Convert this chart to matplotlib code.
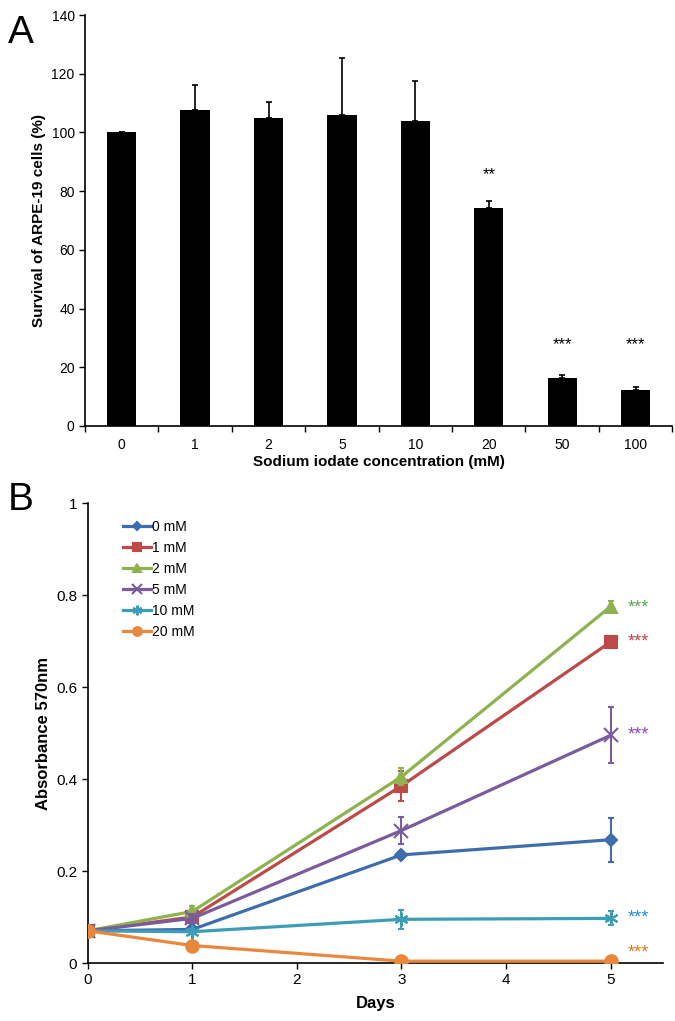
import numpy as np
import matplotlib
matplotlib.use('Agg')
import matplotlib.pyplot as plt

plt.rcParams['font.family'] = ['Liberation Sans', 'DejaVu Sans']

# panel A data
conc_labels = ['0', '1', '2', '5', '10', '20', '50', '100']
survival = [100, 107.5, 105, 106, 104, 74.2, 16.5, 12.2]
survival_err = [0.3, 8.5, 5.5, 19.5, 13.5, 2.5, 0.8, 1.0]
sig_a = ['', '', '', '', '', '**', '***', '***']
sig_a_y = [0, 0, 0, 0, 0, 85.5, 27.6, 27.6]

# panel B data
days = [0, 1, 3, 5]
series_names = ['0 mM', '1 mM', '2 mM', '5 mM', '10 mM', '20 mM']
abs_0 = [0.07, 0.073, 0.235, 0.268]
abs_1 = [0.07, 0.100, 0.385, 0.698]
abs_2 = [0.07, 0.112, 0.405, 0.775]
abs_5 = [0.07, 0.097, 0.288, 0.495]
abs_10 = [0.07, 0.068, 0.095, 0.097]
abs_20 = [0.07, 0.038, 0.004, 0.004]
err_0 = [0.003, 0.005, 0.008, 0.048]
err_1 = [0.003, 0.008, 0.033, 0.006]
err_2 = [0.003, 0.012, 0.018, 0.012]
err_5 = [0.003, 0.010, 0.030, 0.061]
err_10 = [0.003, 0.005, 0.020, 0.015]
err_20 = [0.003, 0.004, 0.003, 0.003]
sig_b = ['', '***', '***', '***', '***', '***']
sig_b_y = [0, 0.698, 0.771, 0.495, 0.098, 0.021]

colors = ['#3E6DAE', '#BD4A47', '#8DB24E', '#7A5C9E', '#3D9DB7', '#E9883C']
star_colors = ['', '#C8454A', '#5EA85A', '#8E44D0', '#1E90D6', '#E07A22']
markers = ['D', 's', '^', 'x', (6, 2, 0), 'o']
msizes = [6, 8, 8, 10, 10, 9]

fig = plt.figure(figsize=(6.75, 10.21), dpi=100)

# ---- panel A ----
axA = fig.add_axes([0.126, 0.5828, 0.87, 0.4025])
x = np.arange(len(conc_labels))
axA.bar(x, survival, width=0.4, color='black', zorder=2)
axA.errorbar(x, survival, yerr=[np.zeros(len(x)), survival_err], fmt='none',
             ecolor='black', elinewidth=1.2, capsize=2.5, capthick=1.2, zorder=1)
for i, s in enumerate(sig_a):
    if s:
        axA.text(x[i], sig_a_y[i], s, ha='center', va='center', fontsize=12)
axA.set_xlim(-0.5, 7.5)
axA.set_ylim(0, 140)
axA.set_yticks(range(0, 141, 20))
axA.set_xticks(x)
axA.set_xticklabels(conc_labels, fontsize=10)
axA.set_xticks(np.arange(-0.5, 7.6, 1), minor=True)
axA.tick_params(axis='x', which='major', length=0, pad=9)
axA.tick_params(axis='x', which='minor', length=4, width=1, direction='out')
axA.tick_params(axis='y', length=4, width=1, labelsize=10)
axA.spines['top'].set_visible(False)
axA.spines['right'].set_visible(False)
axA.spines['left'].set_linewidth(1.2)
axA.spines['bottom'].set_linewidth(1.2)
axA.set_ylabel('Survival of ARPE-19 cells (%)', fontsize=11, fontweight='bold')
axA.set_xlabel('Sodium iodate concentration (mM)', fontsize=11, fontweight='bold', labelpad=2)
fig.text(0.012, 0.985, 'A', fontsize=28, va='top', ha='left')

# ---- panel B ----
axB = fig.add_axes([0.130, 0.0568, 0.852, 0.4505])
all_abs = [abs_0, abs_1, abs_2, abs_5, abs_10, abs_20]
all_err = [err_0, err_1, err_2, err_5, err_10, err_20]
handles = []
for k in range(len(series_names)):
    eb = axB.errorbar(days, all_abs[k], yerr=all_err[k], color=colors[k], lw=2.3,
                      marker=markers[k], ms=msizes[k], mew=1.5, capsize=2.5, capthick=1.2,
                      elinewidth=1.5, label=series_names[k], zorder=3 + k)
    handles.append(eb.lines[0])
    if sig_b[k]:
        axB.text(5.16, sig_b_y[k], sig_b[k], color=star_colors[k], fontsize=13,
                 va='center', ha='left')
axB.set_xlim(0, 5.5)
axB.set_ylim(0, 1)
axB.set_xticks(range(0, 6))
axB.set_yticks([0, 0.2, 0.4, 0.6, 0.8, 1])
axB.set_yticklabels(['0', '0.2', '0.4', '0.6', '0.8', '1'])
axB.tick_params(length=4, width=1, labelsize=11)
axB.spines['top'].set_visible(False)
axB.spines['right'].set_visible(False)
axB.spines['left'].set_linewidth(1.2)
axB.spines['bottom'].set_linewidth(1.2)
axB.set_ylabel('Absorbance 570nm', fontsize=12, fontweight='bold')
axB.set_xlabel('Days', fontsize=12, fontweight='bold', labelpad=6)
axB.legend(handles, series_names, loc='upper left', bbox_to_anchor=(0.04, 0.99), frameon=False,
           fontsize=10, handlelength=2.0, handletextpad=0.1, labelspacing=0.5, markerscale=0.7)
fig.text(0.012, 0.528, 'B', fontsize=28, va='top', ha='left')

fig.savefig('out.png', dpi=100)
